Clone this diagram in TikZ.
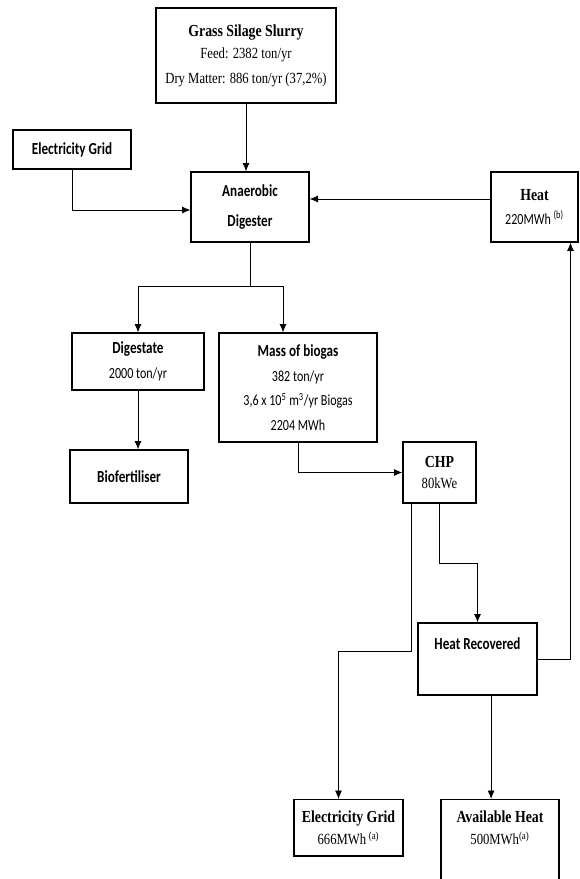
\documentclass[tikz,border=0pt]{standalone}
\usepackage{fontspec}
\setmainfont{Carlito}[FakeStretch=0.78]
\newfontfamily\serifcond{Liberation Serif}[FakeStretch=0.82]
\usetikzlibrary{arrows.meta}
\tikzset{
  block/.style={draw, rectangle, line width=0.8pt, align=center,
    font=\fontsize{11pt}{13pt}\selectfont},
  sblock/.style={block, font=\fontsize{11pt}{13pt}\serifcond},
}
\newcommand{\ttl}[1]{{\fontsize{12pt}{13pt}\selectfont\bfseries #1}}
\begin{document}
\begin{tikzpicture}[>={Latex[length=6pt,width=5pt]}, line width=0.6pt]
  \useasboundingbox (0,0) rectangle (14.5,-21.975);
  \clip (0,0) rectangle (14.5,-21.975);
  \node[sblock, minimum width=4.5cm, minimum height=2.375cm] at (6.15,-1.3875) (silage) {\ttl{Grass Silage Slurry}\\[2.6pt]Feed: 2382 ton/yr\\[4.7pt]Dry Matter: 886 ton/yr (37,2\%)};
  \node[block, minimum width=2.95cm, minimum height=0.975cm] at (1.8,-3.7375) (gridin) {\ttl{Electricity Grid}};
  \node[block, minimum width=2.95cm, minimum height=1.75cm] at (6.25,-5.175) (ad) {\ttl{Anaerobic}\\[8.3pt]\ttl{Digester}};
  \node[block, minimum width=2.175cm, minimum height=1.75cm] at (13.3625,-5.175) (heat) {{\serifcond\ttl{Heat}}\\[4pt]220MWh \textsuperscript{(b)}};
  \node[block, minimum width=3.3cm, minimum height=1.425cm] at (3.45,-9.0375) (dig) {\ttl{Digestate}\\[4.7pt]2000 ton/yr};
  \node[block, minimum width=3.95cm, minimum height=2.725cm] at (7.45,-9.6875) (gas) {\ttl{Mass of biogas}\\[4.7pt]382 ton/yr\\[4.5pt]3,6 x 10\textsuperscript{5} m\textsuperscript{3}/yr Biogas\\[4.5pt]2204 MWh};
  \node[block, minimum width=2.95cm, minimum height=1.325cm] at (3.225,-11.9125) (fert) {\ttl{Biofertiliser}};
  \node[sblock, minimum width=1.825cm, minimum height=1.525cm] at (10.9875,-11.8125) (chp) {\ttl{CHP}\\[2.6pt]80kWe};
  \node[block, minimum width=2.975cm, minimum height=1.8cm, text depth=0.75cm] at (11.9375,-16.475) (rec) {\ttl{Heat Recovered}};
  \node[sblock, anchor=north, minimum width=2.725cm, inner ysep=0.27cm] at (8.7125,-19.975) (gridout) {\ttl{Electricity Grid}\\[3.3pt]666MWh\,\textsuperscript{(a)}};
  \node[sblock, anchor=north, minimum width=2.95cm, inner ysep=0.27cm, text depth=1.5cm] at (12.5,-19.975) (avail) {\ttl{Available Heat}\\[3.3pt]500MWh\textsuperscript{(a)}};
  \draw[->] (silage.south) -- (silage.south |- ad.north);
  \draw[->] (gridin.south) |- ([yshift=-0.075cm]ad.west);
  \draw[->] ([yshift=0.2cm]heat.west) -- ([yshift=0.2cm]ad.east);
  \draw[->] (ad.south) -- ++(0,-1.1) -| (dig.north);
  \draw[->] (ad.south) -- ++(0,-1.1) -| ([xshift=-0.375cm]gas.north);
  \draw[->] (dig.south) -- (dig.south |- fert.north);
  \draw[->] (gas.south) |- (chp.west);
  \draw[->] ([xshift=-0.7cm]chp.south) -- ++(0,-3.7) -| ([xshift=-0.25cm]gridout.north);
  \draw[->] (chp.south) -- ++(0,-1.5) -| (rec.north);
  \draw[->] (rec.east) -| ([xshift=0.9cm]heat.south);
  \draw[->] ([xshift=0.34cm]rec.south) -- ([xshift=0.34cm]rec.south |- avail.north);
\end{tikzpicture}
\end{document}
